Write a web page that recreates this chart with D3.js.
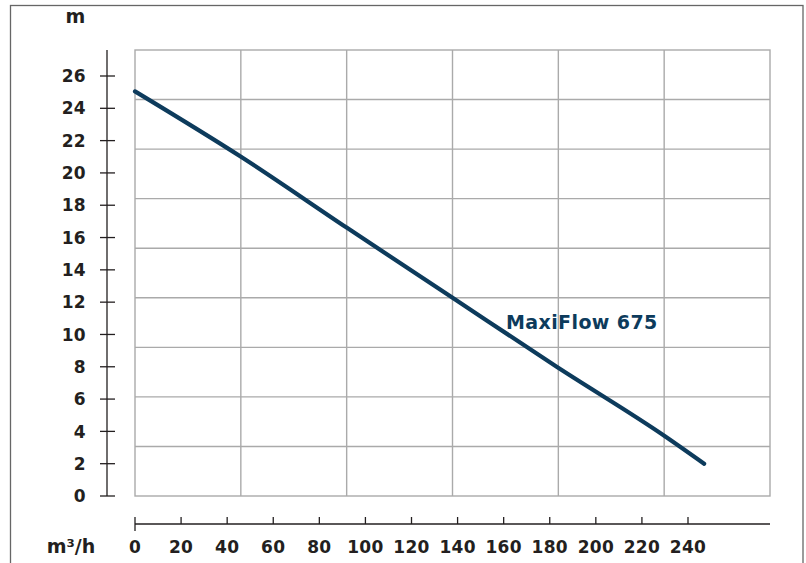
<!DOCTYPE html>
<html>
<head>
<meta charset="utf-8">
<script src="https://cdn.jsdelivr.net/npm/d3@7"></script>
<style>
  html, body { margin: 0; padding: 0; background: #fff; }
  svg { display: block; }
  text { font-family: "DejaVu Sans", sans-serif; font-weight: bold; fill: #231f20; }
</style>
</head>
<body>
<svg id="chart" width="806" height="563"></svg>
<script>
// ---- data ----
const seriesName = "MaxiFlow 675";
const flow = [0, 46, 92, 137, 183, 230, 247];          // m3/h
const head = [25.05, 21.0, 16.6, 12.35, 8.0, 3.7, 2.0]; // m
const xTicks = [0, 20, 40, 60, 80, 100, 120, 140, 160, 180, 200, 220, 240];
const yTicks = [0, 2, 4, 6, 8, 10, 12, 14, 16, 18, 20, 22, 24, 26];
const yUnit = "m";
const xUnit = "m³/h";
const gridCols = 6, gridRows = 9;

// ---- layout ----
const svg = d3.select("#chart");
const navy = "#0d3b5c";

// outer frame
svg.append("rect")
  .attr("x", 10.5).attr("y", 5.5).attr("width", 792.5).attr("height", 600)
  .attr("fill", "none").attr("stroke", "#666").attr("stroke-width", 1.3);

const x = d3.scaleLinear().domain([0, 240]).range([135, 688]);
const y = d3.scaleLinear().domain([0, 26]).range([496, 76]);

// decorative grid box
const gx = d3.scaleLinear().domain([0, gridCols]).range([135, 770]);
const gy = d3.scaleLinear().domain([0, gridRows]).range([50, 496]);
const grid = svg.append("g").attr("stroke", "#aaa").attr("stroke-width", 1.4);
grid.selectAll("line.v").data(d3.range(1, gridCols)).join("line")
  .attr("x1", d => gx(d)).attr("x2", d => gx(d)).attr("y1", gy(0)).attr("y2", gy(gridRows));
grid.selectAll("line.h").data(d3.range(1, gridRows)).join("line")
  .attr("y1", d => gy(d)).attr("y2", d => gy(d)).attr("x1", gx(0)).attr("x2", gx(gridCols));
grid.append("rect").attr("x", gx(0)).attr("y", gy(0))
  .attr("width", gx(gridCols) - gx(0)).attr("height", gy(gridRows) - gy(0))
  .attr("fill", "none");

// y axis
const yAx = svg.append("g").attr("stroke", "#231f20").attr("stroke-width", 1.3);
yAx.append("line").attr("x1", 107).attr("x2", 107).attr("y1", 50).attr("y2", y(0));
yAx.selectAll("line.t").data(yTicks).join("line")
  .attr("x1", 100).attr("x2", 115).attr("y1", d => y(d)).attr("y2", d => y(d));
svg.append("g").selectAll("text").data(yTicks).join("text")
  .attr("x", 86).attr("y", d => y(d)).attr("dy", "0.36em")
  .attr("text-anchor", "end").attr("font-size", 17).attr("letter-spacing", 0.3).text(d => d);

// x axis
const xAx = svg.append("g").attr("stroke", "#231f20").attr("stroke-width", 1.3);
xAx.append("line").attr("x1", 135).attr("x2", 770).attr("y1", 524).attr("y2", 524);
xAx.selectAll("line.t").data(xTicks).join("line")
  .attr("x1", d => x(d)).attr("x2", d => x(d))
  .attr("y1", 517).attr("y2", d => d === 0 ? 531 : 524);
svg.append("g").selectAll("text").data(xTicks).join("text")
  .attr("x", d => x(d)).attr("y", 552.5)
  .attr("text-anchor", "middle").attr("font-size", 17).attr("letter-spacing", 0.3).text(d => d);

// unit labels
svg.append("text").attr("x", 75.5).attr("y", 23).attr("text-anchor", "middle")
  .attr("font-size", 19).text(yUnit);
svg.append("text").attr("x", 71).attr("y", 553).attr("text-anchor", "middle")
  .attr("font-size", 19).text(xUnit);

// curve
const pts = flow.map((f, i) => [f, head[i]]);
svg.append("path").datum(pts)
  .attr("d", d3.line().curve(d3.curveMonotoneX).x(d => x(d[0])).y(d => y(d[1])))
  .attr("fill", "none").attr("stroke", navy).attr("stroke-width", 4.2)
  .attr("stroke-linecap", "round");

svg.append("text").attr("x", 506).attr("y", 329)
  .attr("font-size", 19).attr("letter-spacing", 0.4).style("fill", navy).text(seriesName);
</script>
</body>
</html>
